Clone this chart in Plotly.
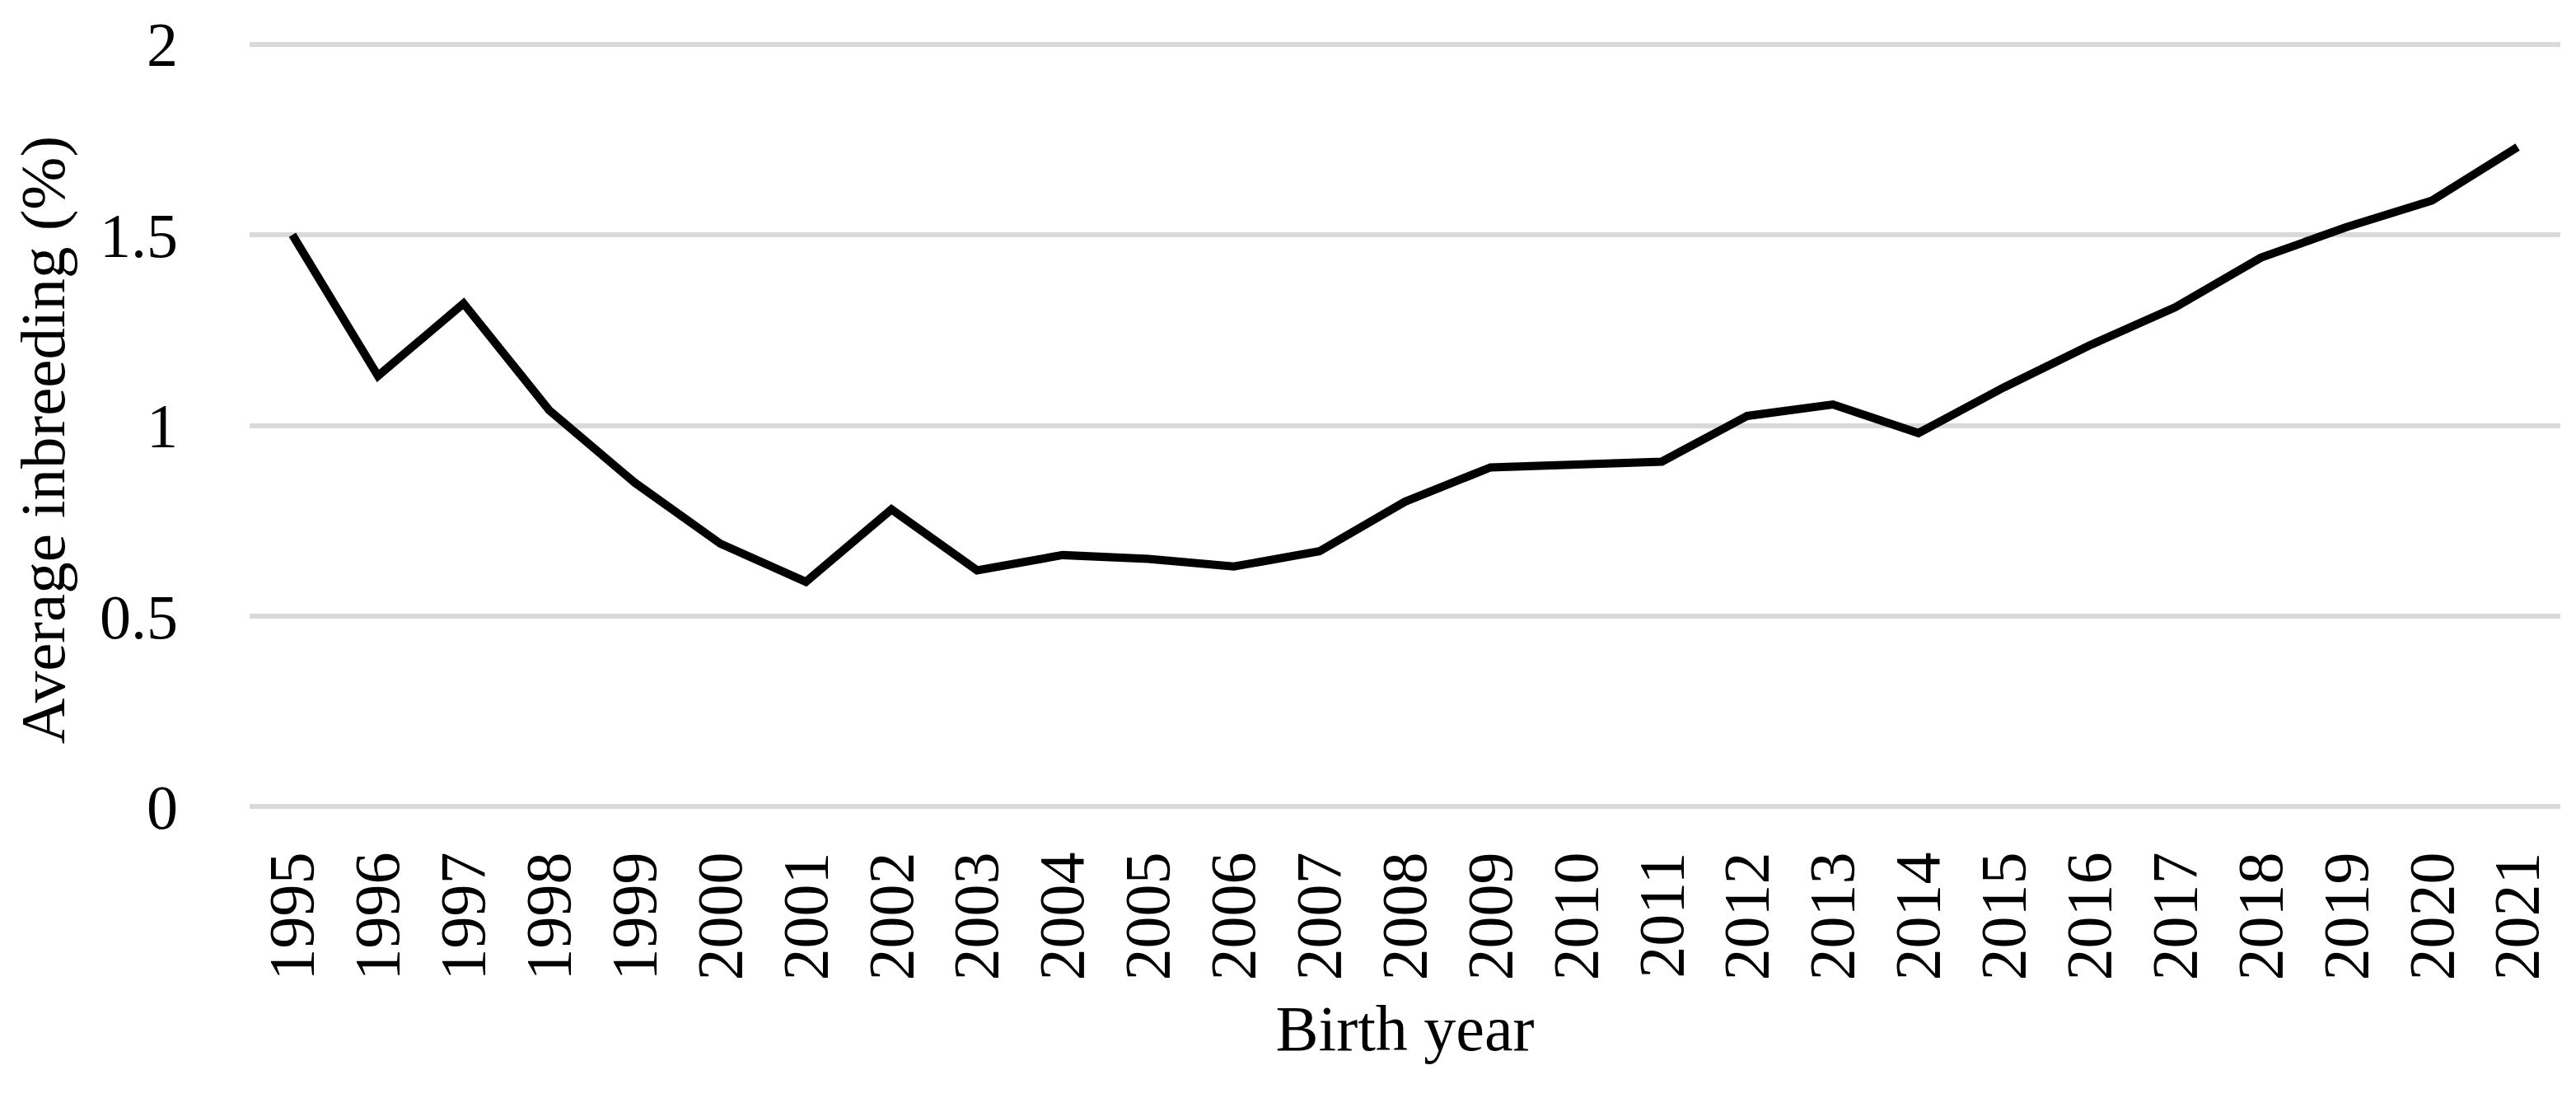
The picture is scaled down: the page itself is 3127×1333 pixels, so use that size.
import plotly.graph_objects as go

years = [str(y) for y in range(1995, 2022)]
inbreeding = [1.50, 1.13, 1.32, 1.04, 0.85, 0.69, 0.59, 0.78, 0.62, 0.66,
              0.65, 0.63, 0.67, 0.80, 0.89, 0.895, 0.905, 1.025, 1.055, 0.98,
              1.10, 1.21, 1.31, 1.44, 1.52, 1.59, 1.73]
y_ticks = [0, 0.5, 1, 1.5, 2]
y_ticktext = ["0", "0.5", "1", "1.5", "2"]
x_title = "Birth year"
y_title = "Average inbreeding (%)"

FONT = "Liberation Serif, Times New Roman, serif"

fig = go.Figure()
fig.add_trace(go.Scatter(
    x=years, y=inbreeding, mode="lines",
    line=dict(color="#000000", width=10),
    showlegend=False, hoverinfo="x+y",
))

fig.update_layout(
    width=3127, height=1333,
    paper_bgcolor="white", plot_bgcolor="white",
    margin=dict(l=295, r=27, t=41, b=357),
    font=dict(family=FONT, size=76, color="#000000"),
)
fig.update_xaxes(
    type="category", range=[-0.5, len(years) - 0.5],
    tickangle=-90, showgrid=False, zeroline=False, showline=False,
    ticks="", ticklabelstandoff=34,
    tickfont=dict(family=FONT, size=78, color="#000000"),
    title=dict(text=x_title, font=dict(family=FONT, size=78, color="#000000"), standoff=30),
    automargin=False,
)
fig.update_yaxes(
    range=[-0.01, 2.01], tickvals=y_ticks, ticktext=y_ticktext,
    showgrid=True, gridcolor="#d9d9d9", gridwidth=6,
    zeroline=False, showline=False, ticks="", ticklabelstandoff=86,
    tickfont=dict(family=FONT, size=76, color="#000000"),
    automargin=False,
)
fig.add_annotation(
    text=y_title, textangle=-90, showarrow=False,
    xref="paper", yref="paper", x=-0.0895, y=0.481,
    xanchor="center", yanchor="middle",
    font=dict(family=FONT, size=77, color="#000000"),
)

fig.write_html("out.html")
